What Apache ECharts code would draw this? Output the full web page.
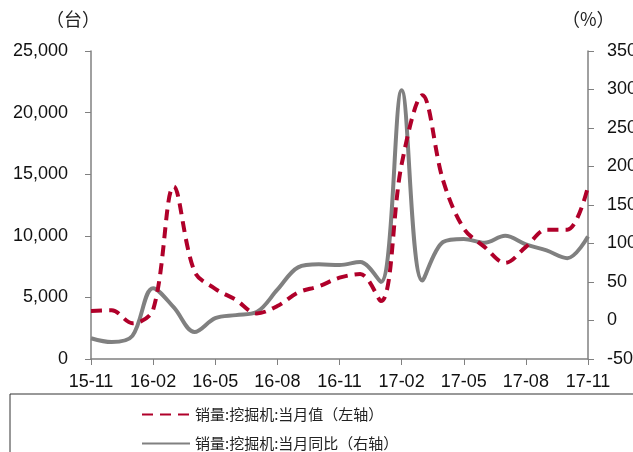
<!DOCTYPE html>
<html>
<head>
<meta charset="utf-8">
<title>挖掘机销量</title>
<style>
  html, body { margin: 0; padding: 0; background: #fff; }
  #main { width: 633px; height: 452px; }
</style>
</head>
<body>
<div id="main"></div>
<script src="https://cdn.jsdelivr.net/npm/echarts@6/dist/echarts.min.js"></script>
<script>
var months = ['15-11','15-12','16-01','16-02','16-03','16-04','16-05','16-06','16-07','16-08','16-09','16-10',
              '16-11','16-12','17-01','17-02','17-03','17-04','17-05','17-06','17-07','17-08','17-09','17-10','17-11'];
// 当月值（台）
var salesValue = [3900, 3950, 2900, 4000, 14000, 7100, 5700, 4800, 3700, 4300, 5400, 5900,
                  6600, 6900, 4700, 15800, 21400, 14500, 10600, 9100, 7800, 9100, 10500, 10500, 14000];
// 当月同比（%）
var salesYoy = [-23, -28, -20, 42, 17, -15, 3, 7, 11, 40, 69, 73,
                72, 76, 50, 299, 52, 102, 106, 101, 110, 99, 91, 81, 109];

var leftTicks = [0, 25000, 5000];
var rightTicks = [-50, 350, 50];

var nameValue = '销量:挖掘机:当月值（左轴）';
var nameYoy = '销量:挖掘机:当月同比（右轴）';

var txtFont = "'Liberation Sans', Arial, sans-serif";
var cjkFont = '"Noto Sans CJK SC", sans-serif';
var axisGray = '#808080';

function legendAt(name, top) {
  return {
    data: [name],
    left: 136,
    top: top,
    itemWidth: 48,
    itemHeight: 10,
    itemStyle: { opacity: 0 },
    textStyle: { fontFamily: cjkFont, fontSize: 15, color: '#222' }
  };
}

var chart = echarts.init(document.getElementById('main'));
chart.setOption({
  animation: false,
  textStyle: { fontFamily: txtFont },
  grid: { left: 91, right: 45, top: 51, bottom: 93, outerBoundsMode: 'none' },
  graphic: [
    { type: 'rect', shape: { x: 10, y: 394, width: 640, height: 70 },
      style: { fill: 'none', stroke: '#333', lineWidth: 1 } },
    { type: 'text', left: 46, top: 10,
      style: { text: '（台）', font: '18px ' + cjkFont, fill: '#222' } },
    { type: 'text', left: 562, top: 10,
      style: { text: '（%）', font: '18px ' + cjkFont, fill: '#222' } }
  ],
  legend: [legendAt(nameValue, 402), legendAt(nameYoy, 431)],
  xAxis: {
    type: 'category',
    boundaryGap: false,
    data: months,
    axisLine: { lineStyle: { color: axisGray, width: 1.5 } },
    axisTick: { interval: 2, length: 6, lineStyle: { color: axisGray } },
    axisLabel: { interval: 2, color: '#111', fontSize: 18, margin: 14, fontFamily: txtFont }
  },
  yAxis: [
    {
      type: 'value',
      min: leftTicks[0], max: leftTicks[1], interval: leftTicks[2],
      splitLine: { show: false },
      axisLine: { show: true, lineStyle: { color: axisGray, width: 1.5 } },
      axisTick: { show: true, length: 6, lineStyle: { color: axisGray } },
      axisLabel: {
        color: '#111', fontSize: 18, margin: 23, fontFamily: txtFont,
        formatter: function (v) { return v.toString().replace(/\B(?=(\d{3})+(?!\d))/g, ','); }
      }
    },
    {
      type: 'value',
      min: rightTicks[0], max: rightTicks[1], interval: rightTicks[2],
      splitLine: { show: false },
      axisLine: { show: true, lineStyle: { color: axisGray, width: 1.5 } },
      axisTick: { show: true, length: 6, lineStyle: { color: axisGray } },
      axisLabel: { color: '#111', fontSize: 18, margin: 19, fontFamily: txtFont }
    }
  ],
  series: [
    {
      name: nameValue,
      type: 'line',
      yAxisIndex: 0,
      data: salesValue,
      smooth: 0.35,
      symbol: 'none',
      lineStyle: { color: '#b0002a', width: 4, type: [11, 7] },
      itemStyle: { color: '#b0002a' },
      z: 3
    },
    {
      name: nameYoy,
      type: 'line',
      yAxisIndex: 1,
      data: salesYoy,
      smooth: 0.35,
      symbol: 'none',
      lineStyle: { color: '#808080', width: 4 },
      itemStyle: { color: '#808080' },
      z: 2
    }
  ]
});
</script>
</body>
</html>
